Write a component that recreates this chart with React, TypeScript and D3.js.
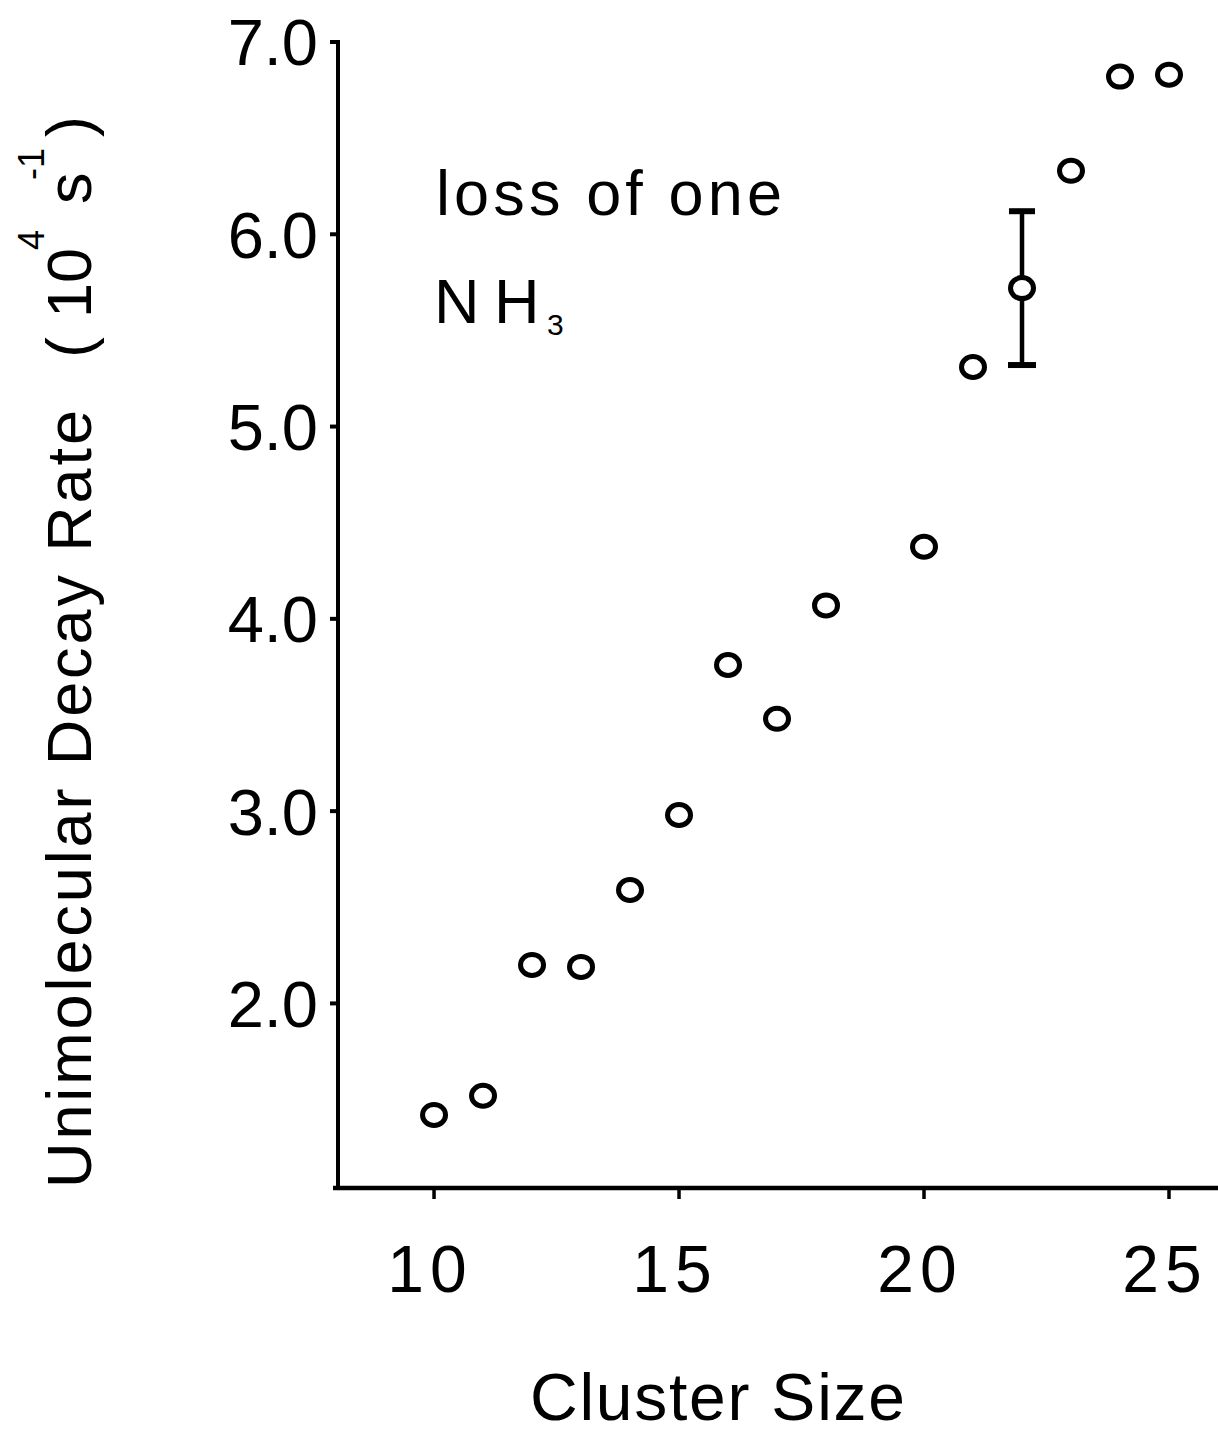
import React from "react";
import * as d3 from "d3";

const clusterSizes = [10, 11, 12, 13, 14, 15, 16, 17, 18, 20, 21, 22, 23, 24, 25];
const decayRates = [1.42, 1.52, 2.2, 2.19, 2.59, 2.98, 3.76, 3.48, 4.07, 4.375, 5.31, 5.72, 6.33, 6.82, 6.83];
const errorBars = [{ size: 22, low: 5.32, high: 6.12 }];
const xTicks = [10, 15, 20, 25];
const yTicks = [2.0, 3.0, 4.0, 5.0, 6.0, 7.0];

const W = 1218;
const H = 1450;
const FONT = "'Liberation Sans', Arial, sans-serif";

export default function App() {
  const x = d3.scaleLinear().domain([8.04, 26.0]).range([338, 1218]);
  const y = d3.scaleLinear().domain([1.04, 7.0]).range([1188, 42]);
  const x0 = x.range()[0];
  const yBottom = y.range()[0];
  const yTop = y.range()[1];
  const ink = "#000";

  const points = clusterSizes.map((s, i) => ({ s, v: decayRates[i] }));

  return (
    <svg width={W} height={H} viewBox={`0 0 ${W} ${H}`} style={{ display: "block", position: "absolute", left: 0, top: 0, background: "#fff" }}>
      <rect x={0} y={0} width={W} height={H} fill="#fff" />
      {/* axes */}
      <line x1={x0} x2={x0} y1={yTop - 2} y2={yBottom + 1} stroke={ink} strokeWidth={4} />
      <line x1={x0 - 5} x2={W} y1={yBottom} y2={yBottom} stroke={ink} strokeWidth={4.5} />
      {/* y ticks */}
      {yTicks.map((t) => (
        <g key={"yt" + t}>
          <line x1={x0 - 8} x2={x0} y1={y(t)} y2={y(t)} stroke={ink} strokeWidth={4} />
          <text x={318} y={y(t)} dy="0.36em" textAnchor="end" fontFamily={FONT} fontSize={65} fill={ink}>
            {t.toFixed(1)}
          </text>
        </g>
      ))}
      {/* x ticks */}
      {xTicks.map((t) => (
        <g key={"xt" + t}>
          <line x1={x(t)} x2={x(t)} y1={yBottom} y2={yBottom + 11} stroke={ink} strokeWidth={3.5} />
          <text x={x(t) - 4} y={1292} textAnchor="middle" fontFamily={FONT} fontSize={66} letterSpacing={6} fill={ink}>
            {String(t)}
          </text>
        </g>
      ))}
      {/* x title */}
      <text x={530} y={1420} fontFamily={FONT} fontSize={66} textLength={375} lengthAdjust="spacing" fill={ink}>
        Cluster Size
      </text>
      {/* y title */}
      <g transform="translate(91,0) rotate(-90)">
        <text x={-1188} y={0} fontFamily={FONT} fontSize={63} textLength={778} lengthAdjust="spacing" fill={ink}>
          Unimolecular Decay Rate
        </text>
        <text fontFamily={FONT} fontSize={63} fill={ink}>
          <tspan x={-358} y={0}>(</tspan>
          <tspan x={-318} y={0}>10</tspan>
          <tspan x={-250} y={-47} fontSize={36}>4</tspan>
          <tspan x={-204} y={0}>s</tspan>
          <tspan x={-180} y={-47} fontSize={36}>-1</tspan>
          <tspan x={-137} y={0}>)</tspan>
        </text>
      </g>
      {/* annotation */}
      <text x={436} y={215} fontFamily={FONT} fontSize={63} textLength={346} lengthAdjust="spacing" fill={ink}>
        loss of one
      </text>
      <text fontFamily={FONT} fontSize={63} fill={ink}>
        <tspan x={434} y={323}>N</tspan>
        <tspan x={494} y={323}>H</tspan>
        <tspan x={547} y={335} fontSize={30}>3</tspan>
      </text>
      {/* error bars */}
      {errorBars.map((e) => (
        <g key={"eb" + e.size} stroke={ink}>
          <line x1={x(e.size)} x2={x(e.size)} y1={y(e.high)} y2={y(e.low)} strokeWidth={4.5} />
          <line x1={x(e.size) - 13} x2={x(e.size) + 13} y1={y(e.high)} y2={y(e.high)} strokeWidth={6} />
          <line x1={x(e.size) - 14} x2={x(e.size) + 14} y1={y(e.low)} y2={y(e.low)} strokeWidth={6} />
        </g>
      ))}
      {/* points */}
      {points.map((p) => (
        <ellipse key={"p" + p.s} cx={x(p.s)} cy={y(p.v)} rx={11.5} ry={10.5} fill="#fff" stroke={ink} strokeWidth={5} />
      ))}
    </svg>
  );
}
